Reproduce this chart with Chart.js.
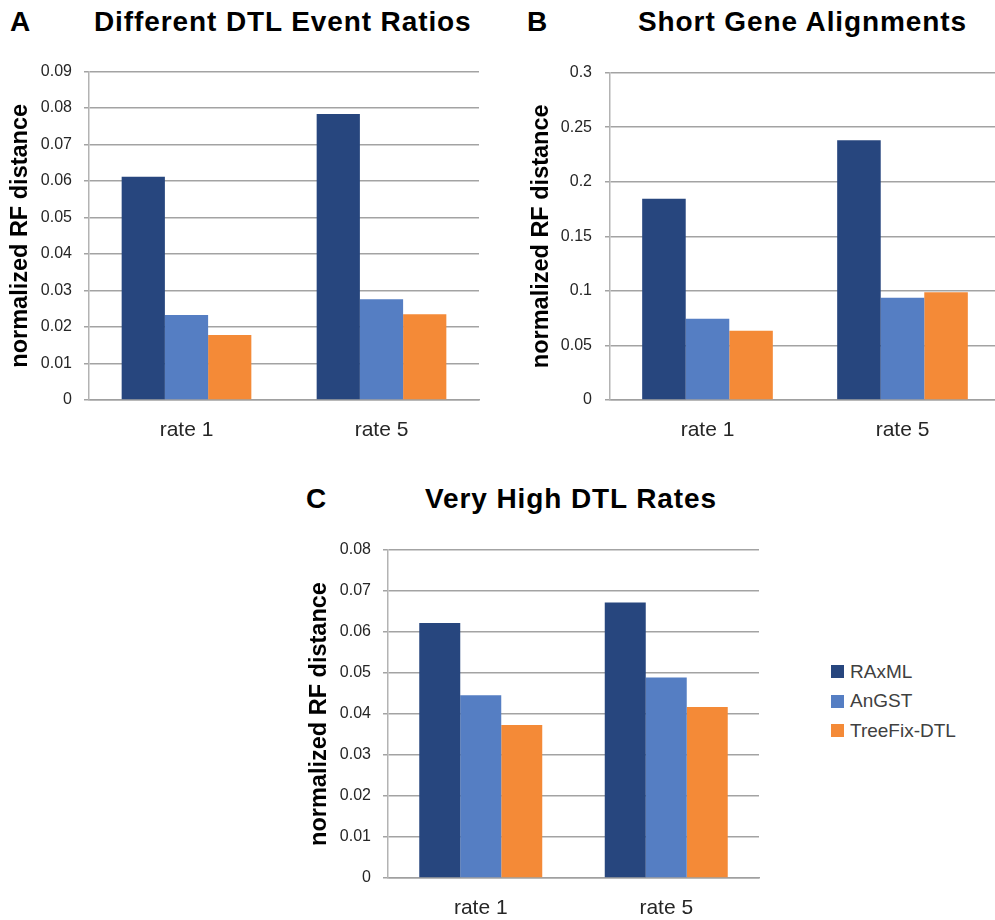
<!DOCTYPE html>
<html>
<head>
<meta charset="utf-8">
<script src="https://cdn.jsdelivr.net/npm/chart.js@4.4.1/dist/chart.umd.min.js"></script>
<style>
html, body { margin: 0; padding: 0; background: #fff; overflow: hidden; }
body { width: 995px; height: 920px; position: relative; font-family: "Liberation Sans", Arial, sans-serif; }
canvas { position: absolute; }
.letter, .title { position: absolute; font-weight: bold; font-size: 28px; line-height: 1; color: #000; white-space: nowrap; }
.title { letter-spacing: 0.9px; }
#legend { position: absolute; left: 831px; top: 657px; font-size: 19px; color: #404040; }
#legend .row { display: flex; align-items: center; height: 29.5px; }
#legend .box { width: 13px; height: 13px; margin-right: 6px; }
</style>
</head>
<body>

<div class="letter" style="left:10px;top:8px">A</div>
<div class="title" style="left:94px;top:8px">Different DTL Event Ratios</div>
<div class="letter" style="left:527px;top:8px">B</div>
<div class="title" style="left:638px;top:8px">Short Gene Alignments</div>
<div class="letter" style="left:306px;top:485px">C</div>
<div class="title" style="left:425px;top:485px">Very High DTL Rates</div>

<canvas id="chartA" width="485" height="400" style="left:0px;top:50px"></canvas>
<canvas id="chartB" width="480" height="400" style="left:520px;top:50px"></canvas>
<canvas id="chartC" width="475" height="408" style="left:290px;top:520px"></canvas>

<div id="legend"></div>

<script>
// categories and series
const categories = ['rate 1', 'rate 5'];
const seriesNames = ['RAxML', 'AnGST', 'TreeFix-DTL'];
const seriesColors = ['#27467e', '#557ec3', '#f48a37'];

// A: Different DTL Event Ratios
const ratiosRAxML = [0.0612, 0.0784];
const ratiosAnGST = [0.0233, 0.0276];
const ratiosTreeFix = [0.0178, 0.0235];

// B: Short Gene Alignments
const shortRAxML = [0.1845, 0.238];
const shortAnGST = [0.0745, 0.0936];
const shortTreeFix = [0.0635, 0.0988];

// C: Very High DTL Rates
const highRAxML = [0.0622, 0.0672];
const highAnGST = [0.0446, 0.0489];
const highTreeFix = [0.0373, 0.0417];

// y axis ranges [max, step]
const yAxisA = [0.09, 0.01];
const yAxisB = [0.3, 0.05];
const yAxisC = [0.08, 0.01];

const FONT = '"Liberation Sans", Arial, sans-serif';

function makeChart(id, seriesValues, yAxis, geo) {
    return new Chart(document.getElementById(id), {
        type: 'bar',
        data: {
            labels: categories,
            datasets: seriesValues.map(function (vals, i) {
                return {
                    label: seriesNames[i],
                    data: vals,
                    backgroundColor: seriesColors[i],
                    borderWidth: 0,
                    categoryPercentage: geo.cat,
                    barPercentage: 1
                };
            })
        },
        options: {
            responsive: false,
            animation: false,
            devicePixelRatio: 1,
            layout: { padding: { top: geo.padTop, right: geo.padRight, left: 0, bottom: 0 } },
            plugins: { legend: { display: false }, tooltip: { enabled: false } },
            scales: {
                x: {
                    grid: { display: false, drawTicks: false },
                    border: { display: true, color: '#a0a0a0', width: 1.5 },
                    ticks: { color: '#262626', font: { family: FONT, size: 21 }, padding: 18 },
                    afterFit: function (s) { s.height = 50; }
                },
                y: {
                    min: 0,
                    max: yAxis[0],
                    ticks: {
                        stepSize: yAxis[1],
                        color: '#262626',
                        font: { family: FONT, size: 16 },
                        padding: geo.tickPad,
                        callback: function (v) { return String(+v.toFixed(4)); }
                    },
                    grid: { color: '#a3a3a3', lineWidth: 1.5, tickLength: 5, tickColor: '#a3a3a3' },
                    border: { color: '#b3b3b3', width: 1.5 },
                    title: {
                        display: true,
                        text: 'normalized RF distance',
                        color: '#000',
                        font: { family: FONT, size: 23.5, weight: 'bold' },
                        padding: { top: geo.titlePad, bottom: 0 }
                    },
                    afterFit: function (s) { s.width = geo.yWidth; }
                }
            }
        }
    });
}

makeChart('chartA', [ratiosRAxML, ratiosAnGST, ratiosTreeFix], yAxisA,
    { cat: 0.665, padTop: 21, padRight: 6, yWidth: 89, tickPad: 12, titlePad: 6.4 });
makeChart('chartB', [shortRAxML, shortAnGST, shortTreeFix], yAxisB,
    { cat: 0.67, padTop: 21, padRight: 0, yWidth: 90, tickPad: 13, titlePad: 7.6 });
makeChart('chartC', [highRAxML, highAnGST, highTreeFix], yAxisC,
    { cat: 0.663, padTop: 30, padRight: 6, yWidth: 98, tickPad: 12, titlePad: 15.4 });

// legend for panel C
const legend = document.getElementById('legend');
seriesNames.forEach(function (name, i) {
    const row = document.createElement('div');
    row.className = 'row';
    const box = document.createElement('span');
    box.className = 'box';
    box.style.background = seriesColors[i];
    const txt = document.createElement('span');
    txt.textContent = name;
    row.appendChild(box);
    row.appendChild(txt);
    legend.appendChild(row);
});
</script>
</body>
</html>
